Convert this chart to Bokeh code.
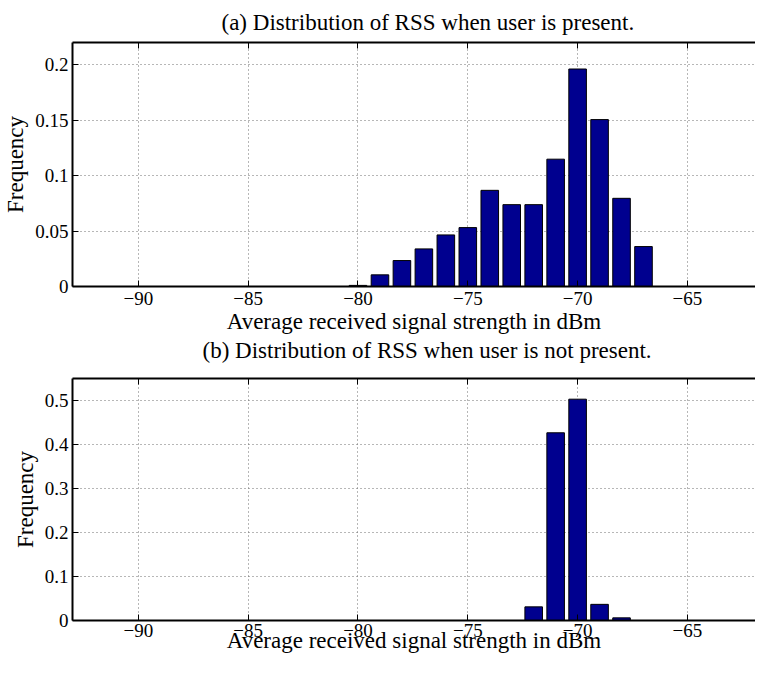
from bokeh.plotting import figure
from bokeh.models import LinearAxis, FixedTicker, Title
from bokeh.layouts import column
from bokeh.embed import file_html
from bokeh.resources import INLINE

# ---- data ----
rss_bins_a = [-80, -79, -78, -77, -76, -75, -74, -73, -72, -71, -70, -69, -68, -67]
freq_a = [0.001, 0.0105, 0.0234, 0.0339, 0.0465, 0.0531, 0.0867, 0.0738, 0.0738,
          0.1148, 0.1961, 0.1505, 0.0795, 0.0360]

rss_bins_b = [-72, -71, -70, -69, -68]
freq_b = [0.031, 0.4266, 0.503, 0.0367, 0.006]

x_ticks = [-90, -85, -80, -75, -70, -65]
x_tick_labels = ["\u221290", "\u221285", "\u221280", "\u221275", "\u221270", "\u221265"]
y_ticks_a = [0, 0.05, 0.1, 0.15, 0.2]
y_tick_labels_a = ["0", "0.05", "0.1", "0.15", "0.2"]
y_ticks_b = [0, 0.1, 0.2, 0.3, 0.4, 0.5]
y_tick_labels_b = ["0", "0.1", "0.2", "0.3", "0.4", "0.5"]

title_a = "(a) Distribution of RSS when user is present."
title_b = "(b) Distribution of RSS when user is not present."
x_label = "Average received signal strength in dBm"
y_label = "Frequency"

X_RANGE = (-93, -61.9)
FONT = "Liberation Serif"
LABEL_SIZE = "23px"
TICK_SIZE = "19px"
BAR_COLOR = "#00008F"
GRID_COLOR = "#6e6e6e"


def style_panel(p, yticks, ylabels, xtick_standoff, xlab_standoff):
    p.outline_line_color = None
    p.background_fill_color = "white"
    p.border_fill_color = "white"

    xa = p.xaxis[0]
    xa.ticker = FixedTicker(ticks=x_ticks)
    xa.major_label_overrides = dict(zip(x_ticks, x_tick_labels))
    xa.axis_label = x_label
    xa.axis_label_standoff = xlab_standoff
    xa.major_label_standoff = xtick_standoff

    ya = p.yaxis[0]
    ya.ticker = FixedTicker(ticks=yticks)
    ya.major_label_overrides = dict(zip(yticks, ylabels))
    ya.axis_label = y_label
    ya.axis_label_standoff = 4
    ya.major_label_standoff = 4

    for ax in (xa, ya):
        ax.axis_line_width = 2
        ax.axis_line_color = "black"
        ax.major_tick_in = 6
        ax.major_tick_out = 0
        ax.major_tick_line_color = "black"
        ax.minor_tick_line_color = None
        ax.major_label_text_font = FONT
        ax.major_label_text_font_size = TICK_SIZE
        ax.major_label_text_color = "black"
        ax.axis_label_text_font = FONT
        ax.axis_label_text_font_size = LABEL_SIZE
        ax.axis_label_text_font_style = "normal"
        ax.axis_label_text_color = "black"

    # top border of the box: an unlabeled axis whose (minor) ticks sit at the x ticks
    top = LinearAxis(ticker=FixedTicker(ticks=[], minor_ticks=x_ticks))
    top.major_label_standoff = 0
    top.axis_line_width = 2
    top.axis_line_color = "black"
    top.major_tick_line_color = None
    top.minor_tick_in = 6
    top.minor_tick_out = 0
    top.minor_tick_line_color = "black"
    p.add_layout(top, "above")

    p.xgrid.ticker = FixedTicker(ticks=x_ticks)
    p.ygrid.ticker = FixedTicker(ticks=yticks)
    for g in (p.xgrid[0], p.ygrid[0]):
        g.grid_line_color = GRID_COLOR
        g.grid_line_dash = "1 3"
        g.grid_line_width = 1


def title_obj(text, standoff, offset):
    return Title(text=text, align="left", offset=offset, text_font=FONT,
                 text_font_size=LABEL_SIZE, text_font_style="normal",
                 text_color="black", standoff=standoff)


# ---- panel (a) ----
p1 = figure(width=755, height=366, x_range=X_RANGE, y_range=(0, 0.22),
            output_backend="svg", toolbar_location=None,
            min_border_left=67, min_border_right=0, min_border_top=20,
            min_border_bottom=80)
p1.title = title_obj(title_a, 15, 149)
p1.vbar(x=rss_bins_a, top=freq_a, width=0.8, bottom=0,
        fill_color=BAR_COLOR, line_color="black", line_width=1)
style_panel(p1, y_ticks_a, y_tick_labels_a, 5, 1)
p1.add_layout(title_obj(title_b, -1, 130), "below")

# ---- panel (b) ----
p2 = figure(width=755, height=291, x_range=X_RANGE, y_range=(0, 0.55),
            output_backend="svg", toolbar_location=None,
            min_border_left=67, min_border_right=0, min_border_top=12,
            min_border_bottom=37)
p2.vbar(x=rss_bins_b, top=freq_b, width=0.8, bottom=0,
        fill_color=BAR_COLOR, line_color="black", line_width=1)
style_panel(p2, y_ticks_b, y_tick_labels_b, 3, -12)

layout = column(p1, p2, spacing=0)
open("out.html", "w").write(file_html(layout, INLINE))
